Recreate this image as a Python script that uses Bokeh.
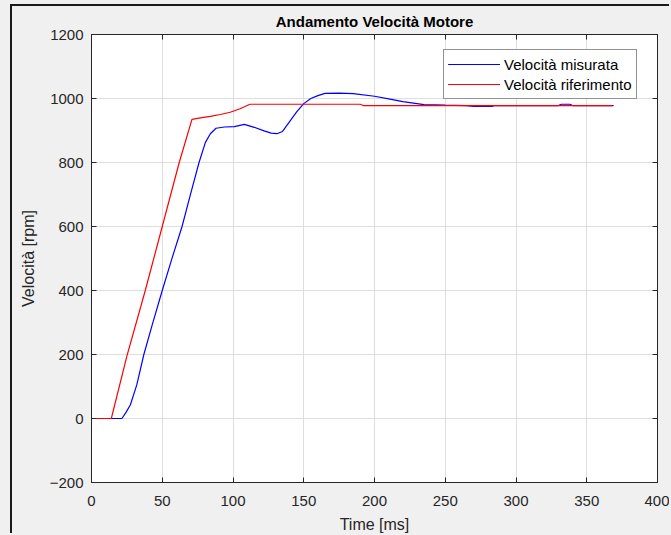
from bokeh.plotting import figure
from bokeh.models import Legend, LegendItem, LinearAxis, Range1d, FixedTicker
from bokeh.layouts import column
from bokeh.embed import file_html
from bokeh.resources import INLINE

# Reference speed (rpm) against time (ms)
ref_time = [0, 14, 25, 38, 50, 62, 71, 78, 84, 91, 98, 105, 112, 190, 192, 368]
ref_speed = [0, 0, 195, 400, 600, 800, 935, 940, 944, 950, 957, 968, 982, 982, 978, 978]

# Measured speed (rpm) against time (ms)
meas_time = [0, 21.5, 24.5, 27.5, 32, 37, 43, 50, 57, 64, 70, 76, 80.5, 84, 88, 94,
             101, 108, 115, 122, 127, 131, 135, 140, 145, 150, 155, 160, 165, 175, 185,
             200, 210, 220, 235, 250, 265, 270, 283, 285, 330, 332, 338, 340, 369]
meas_speed = [0, 0, 20, 43, 105, 200, 294, 400, 502, 600, 701, 800, 863, 890, 907, 911,
              912, 919, 910, 899, 892, 890, 897, 928, 958, 984, 1000, 1009, 1016, 1017, 1015,
              1007, 999, 990, 981, 979, 978, 975, 975, 978, 978, 982, 982, 978, 978]

x_ticks = [0, 50, 100, 150, 200, 250, 300, 350, 400]
y_ticks = [-200, 0, 200, 400, 600, 800, 1000, 1200]

FONT = "Liberation Sans"
INK = "#262626"
BG = "#f0f0f0"
BLUE = "#0000ff"
RED = "#ff0000"

p = figure(width=659, height=529, output_backend="svg", toolbar_location=None,
           x_range=Range1d(0, 400), y_range=Range1d(-200, 1200),
           min_border_left=79, min_border_right=14, min_border_top=27,
           min_border_bottom=53, background_fill_color="white",
           border_fill_color=BG, title="Andamento Velocità Motore")
p.styles = {"border-left": "2px solid #1a1a1a", "border-top": "2px solid #1a1a1a"}

p.title.align = "center"
p.title.text_font = FONT
p.title.text_font_size = "15px"
p.title.text_font_style = "bold"
p.title.text_color = "#000000"
p.title.offset = 0
p.title.standoff = 9

p.outline_line_color = INK
p.outline_line_width = 1

for ax in (p.xaxis[0], p.yaxis[0]):
    ax.major_label_text_font = FONT
    ax.major_label_text_font_size = "15px"
    ax.major_label_text_color = INK
    ax.axis_label_text_font = FONT
    ax.axis_label_text_font_size = "16px"
    ax.axis_label_text_font_style = "normal"
    ax.axis_label_text_color = INK
    ax.axis_line_color = INK
    ax.major_tick_line_color = INK
    ax.major_tick_in = 5
    ax.major_tick_out = 0
    ax.minor_tick_line_color = None

p.xaxis[0].ticker = FixedTicker(ticks=x_ticks)
p.yaxis[0].ticker = FixedTicker(ticks=y_ticks)
p.xaxis[0].axis_label = "Time [ms]"
p.yaxis[0].axis_label = "Velocità [rpm]"
p.xaxis[0].major_label_standoff = 13
p.yaxis[0].major_label_standoff = 8
p.xaxis[0].axis_label_standoff = 7
p.yaxis[0].axis_label_standoff = 10

# Box ticks on the top and right edges
for loc, ticks in (("above", x_ticks), ("right", y_ticks)):
    ax = LinearAxis(ticker=FixedTicker(ticks=ticks), major_label_text_font_size="0px",
                    major_label_standoff=0, axis_line_color=INK,
                    major_tick_line_color=INK, major_tick_in=5, major_tick_out=0,
                    minor_tick_line_color=None)
    ax.major_label_overrides = {t: "" for t in ticks}
    p.add_layout(ax, loc)

p.xgrid.ticker = FixedTicker(ticks=x_ticks)
p.ygrid.ticker = FixedTicker(ticks=y_ticks)
p.grid.grid_line_color = "#dedede"
p.grid.grid_line_width = 1

r_meas = p.line(meas_time, meas_speed, color=BLUE, line_width=1.2)
r_ref = p.line(ref_time, ref_speed, color=RED, line_width=1.2)

# each legend swatch is stroked several times so the last stroke carries the series colour
legend = Legend(items=[LegendItem(label="Velocità misurata", renderers=[r_meas] * 3),
                       LegendItem(label="Velocità riferimento", renderers=[r_ref] * 3)],
                location=(352, 383))
legend.label_text_font = FONT
legend.label_text_font_size = "15px"
legend.label_text_color = "#000000"
legend.glyph_width = 52
legend.glyph_height = 20
legend.label_height = 20
legend.label_standoff = 4
legend.padding = 4
legend.spacing = 0
legend.margin = 0
legend.border_line_color = INK
legend.border_line_width = 1
legend.background_fill_color = "white"
legend.background_fill_alpha = 1
p.add_layout(legend, "center")

page = column(p, styles={"background-color": BG, "padding-left": "10px",
                         "padding-top": "4px"}, width=671, height=535)

open("out.html", "w").write(file_html(page, INLINE))
